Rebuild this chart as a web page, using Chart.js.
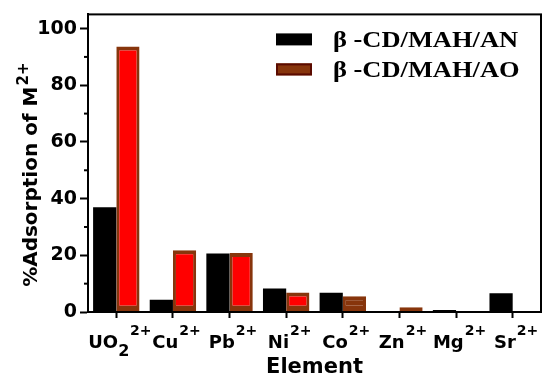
<!DOCTYPE html>
<html>
<head>
<meta charset="utf-8">
<script src="https://cdn.jsdelivr.net/npm/chart.js@4.4.0/dist/chart.umd.min.js"></script>
<style>
  html, body { margin: 0; padding: 0; background: #fff; }
  #wrap { width: 550px; height: 382px; }
</style>
</head>
<body>
<div id="wrap"><canvas id="adsorptionChart"></canvas></div>
<script>
// values
const elements = ['UO2', 'Cu', 'Pb', 'Ni', 'Co', 'Zn', 'Mg', 'Sr'];
const charge = '2+';
const seriesNames = ['\u03B2 -CD/MAH/AN', '\u03B2 -CD/MAH/AO'];
const anValues = [37, 4.3, 20.6, 8.3, 6.8, 0, 0.7, 6.6];
const aoValues = [93.7, 21.8, 20.8, 6.9, 5.6, 1.7, 0.3, 0];
const yTicks = [0, 20, 40, 60, 80, 100];
const yMinorTicks = [10, 30, 50, 70, 90];
const yTitle = '%Adsorption of M';

const RED = '#ff0000';
const BROWN = '#87350c';
const SANS = '"DejaVu Sans"';
const legendFills = ['#000000', BROWN];
const legendStrokes = ['#000000', '#5a0a00'];

// frame, minor ticks, legend, element labels with sub/superscripts, y title
const decorations = {
    id: 'decorations',
    afterDraw(chart) {
        const ctx = chart.ctx;
        const area = chart.chartArea;
        const xScale = chart.scales.x;
        const yScale = chart.scales.y;
        ctx.save();
        ctx.strokeStyle = '#000';
        ctx.lineWidth = 2;
        ctx.strokeRect(area.left, area.top, area.right - area.left, area.bottom - area.top);

        yMinorTicks.forEach(v => {
            const py = yScale.getPixelForValue(v);
            ctx.beginPath();
            ctx.moveTo(area.left - 4, py);
            ctx.lineTo(area.left, py);
            ctx.stroke();
        });

        // legend
        ctx.textBaseline = 'alphabetic';
        ctx.textAlign = 'left';
        chart.data.datasets.forEach((ds, i) => {
            const top = area.top + 19 + i * 30;
            ctx.fillStyle = legendFills[i];
            ctx.fillRect(area.left + 188, top, 36, 12);
            if (i > 0) {
                ctx.strokeStyle = legendStrokes[i];
                ctx.lineWidth = 2;
                ctx.strokeRect(area.left + 189, top + 1, 34, 10);
            }
            ctx.fillStyle = '#000';
            ctx.font = 'bold 23px "Liberation Serif"';
            ctx.save();
            ctx.translate(area.left + 245, top + 14);
            ctx.scale(1.15, 1);
            ctx.fillText(ds.label, 0, 0);
            ctx.restore();
        });

        ctx.fillStyle = '#000';
        elements.forEach((name, i) => {
            const m = name.match(/^([A-Za-z]+)(\d*)$/);
            const base = m[1];
            const sub = m[2];
            ctx.font = 'bold 18px ' + SANS;
            const wBase = ctx.measureText(base).width;
            ctx.font = 'bold 14px ' + SANS;
            const wSub = sub ? ctx.measureText(sub).width + 1 : 0;
            const wSup = ctx.measureText(charge).width;
            const cx = xScale.getPixelForTick(i) + 3;
            let px = cx - (wBase + wSub + wSup) / 2;
            const by = area.bottom + 36;
            ctx.font = 'bold 18px ' + SANS;
            ctx.fillText(base, px, by);
            px += wBase;
            if (sub) {
                ctx.font = 'bold 16px ' + SANS;
                ctx.fillText(sub, px, by + 8);
                px += wSub;
            }
            ctx.font = 'bold 14px ' + SANS;
            ctx.fillText(charge, px + 1, by - 13);
        });

        // rotated y axis title
        ctx.font = 'bold 20px ' + SANS;
        const wMain = ctx.measureText(yTitle).width;
        ctx.font = 'bold 15px ' + SANS;
        const wCharge = ctx.measureText(charge).width;
        const midY = (area.top + area.bottom) / 2 + 12;
        ctx.translate(37, midY + (wMain + wCharge) / 2);
        ctx.rotate(-Math.PI / 2);
        ctx.font = 'bold 20px ' + SANS;
        ctx.fillText(yTitle, 0, 0);
        ctx.font = 'bold 15px ' + SANS;
        ctx.fillText(charge, wMain + 1, -9);
        ctx.restore();
    }
};

document.addEventListener('DOMContentLoaded', () => {
    const ctx = document.getElementById('adsorptionChart').getContext('2d');
    new Chart(ctx, {
        type: 'bar',
        data: {
            labels: elements,
            datasets: [{
                label: seriesNames[0],
                data: anValues,
                backgroundColor: '#000000',
                borderWidth: 0
            }, {
                label: seriesNames[1],
                data: aoValues,
                backgroundColor: [RED, RED, RED, RED, BROWN, BROWN, BROWN, BROWN],
                borderColor: BROWN,
                borderWidth: { top: 4, left: 3, right: 3, bottom: 6 },
                borderSkipped: false
            }]
        },
        options: {
            responsive: true,
            maintainAspectRatio: false,
            animation: false,
            devicePixelRatio: 1,
            layout: { padding: { top: 9, right: 9, left: 0, bottom: 0 } },
            datasets: {
                bar: { categoryPercentage: 0.82, barPercentage: 1.0 }
            },
            scales: {
                x: {
                    offset: true,
                    afterFit: scale => { scale.height = 70; },
                    grid: {
                        offset: false,
                        drawOnChartArea: false,
                        drawTicks: true,
                        tickLength: 6,
                        tickColor: '#000',
                        tickWidth: 2
                    },
                    border: { display: true, color: '#000', width: 2 },
                    ticks: { color: 'rgba(0,0,0,0)', font: { size: 18 } },
                    title: {
                        display: true,
                        text: 'Element',
                        color: '#000',
                        font: { family: SANS, size: 21, weight: 'bold' },
                        padding: { top: 0, bottom: 2 }
                    }
                },
                y: {
                    min: 0,
                    max: 105,
                    afterFit: scale => { scale.width = 88; },
                    afterBuildTicks: scale => { scale.ticks = yTicks.map(v => ({ value: v })); },
                    grid: {
                        drawOnChartArea: false,
                        drawTicks: true,
                        tickLength: 8,
                        tickColor: '#000',
                        tickWidth: 2
                    },
                    border: { display: true, color: '#000', width: 2 },
                    ticks: {
                        color: '#000',
                        padding: 3,
                        font: { family: SANS, size: 19, weight: 'bold' }
                    }
                }
            },
            plugins: {
                tooltip: { enabled: false },
                legend: { display: false }
            }
        },
        plugins: [decorations]
    });
});
</script>
</body>
</html>
